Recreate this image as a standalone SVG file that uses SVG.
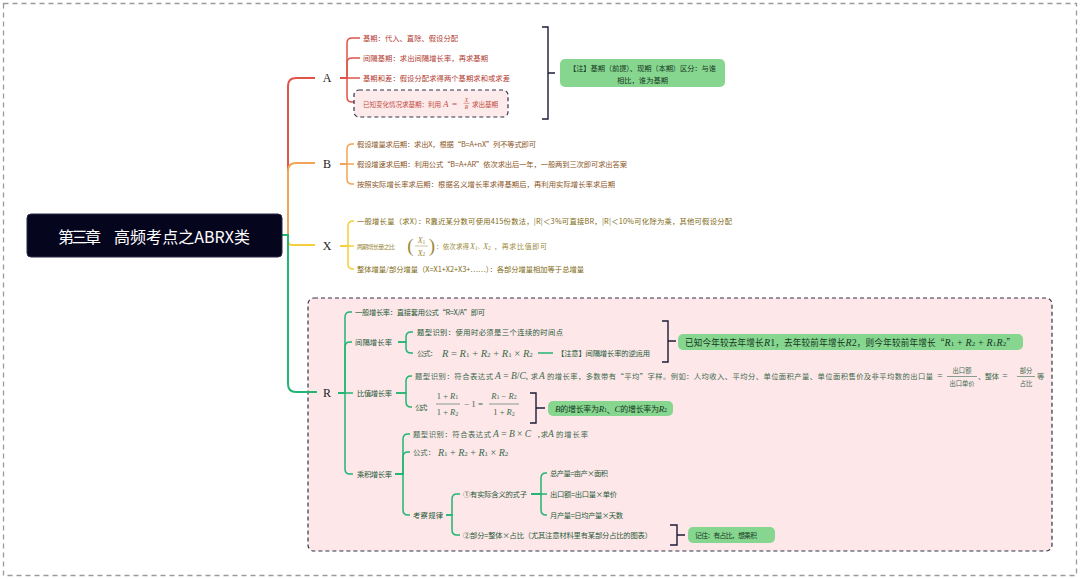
<svg xmlns="http://www.w3.org/2000/svg" width="1080" height="579" viewBox="0 0 1080 579" font-size="7.3">
<defs>
<style>
text,tspan{dominant-baseline:central}
.t{font-family:"Noto Sans CJK SC","Noto Sans",sans-serif}
.m{font-family:"Liberation Serif","DejaVu Serif",serif}
.i{font-style:italic}
.lbl{font-family:"Liberation Serif",serif;font-size:12px;fill:#222}
.ca{fill:#b2392f}
.ca2{fill:#c24b41}
.cb{fill:#8a5526}
.cx{fill:#7e6a12}
.cx2{fill:#9b8a3c}
.cr{fill:#1d5a37}
.cr2{fill:#3c6a4c}
.gt{fill:#16361e}
.lr{fill:none;stroke:#e0544a;stroke-width:1.5}
.lo{fill:none;stroke:#f2a457;stroke-width:1.5}
.ly{fill:none;stroke:#f5cf3a;stroke-width:1.5}
.lg{fill:none;stroke:#22b573;stroke-width:1.5}
.main{stroke-width:2}
.br{fill:none;stroke:#1c1c38;stroke-width:1.4}
.gbox{fill:#86d690}
.dash{stroke:#33334a;stroke-width:1.2;stroke-dasharray:4 3}
</style>
</defs>
<rect x="0" y="0" width="1080" height="579" fill="#fff"/>
<rect x="3.5" y="3.5" width="1073" height="572" fill="#fff" stroke="#9a9a9a" stroke-width="1.3" stroke-dasharray="5 4"/>

<!-- R section background -->
<rect id="r-frame" x="308" y="298" width="744" height="253" rx="6" fill="#fde7e9" class="dash"/>

<g id="connectors">
  <!-- main branches -->
  <path class="lr main" d="M288,240 V86 Q288,78 296,78 H315"/>
  <path class="lo main" d="M288,240 V171 Q288,163 296,163 H315"/>
  <path class="ly main" d="M288,236 V241 Q288,245 292,245 H315"/>
  <path class="lg main" d="M282,235 H288 V384 Q288,392 296,392 H317"/>
  <!-- A children -->
  <path class="lr" d="M340,78 H347 V43 Q347,38 352,38 H360"/>
  <path class="lr" d="M340,78 H347 V63 Q347,58 352,58 H360"/>
  <path class="lr" d="M340,78 H360"/>
  <path class="lr" d="M340,78 H347 V97 Q347,102 352,102 H356"/>
  <!-- B children -->
  <path class="lo" d="M340,164 H347 V149 Q347,144 352,144 H354"/>
  <path class="lo" d="M340,164 H354"/>
  <path class="lo" d="M340,164 H347 V179 Q347,184 352,184 H354"/>
  <!-- X children -->
  <path class="ly" d="M340,246 H348 V226 Q348,221 353,221 H354"/>
  <path class="ly" d="M340,246 H354"/>
  <path class="ly" d="M340,246 H348 V264 Q348,269 353,269 H354"/>
  <!-- R children -->
  <path class="lg" d="M338,393 H345 V317 Q345,312 350,312 H352"/>
  <path class="lg" d="M338,393 H345 V347 Q345,342 350,342 H352"/>
  <path class="lg" d="M338,393 H353"/>
  <path class="lg" d="M338,393 H345 V469 Q345,474 350,474 H353"/>
  <!-- 间隔增长率 -->
  <path class="lg" d="M398,342 H406 V337 Q406,332 411,332 H413"/>
  <path class="lg" d="M398,342 H406 V348 Q406,353 411,353 H413"/>
  <path class="lg" d="M538,353 H553"/>
  <!-- 比值增长率 -->
  <path class="lg" d="M396,393 H406 V381 Q406,376 411,376 H412"/>
  <path class="lg" d="M396,393 H406 V402 Q406,407 411,407 H412"/>
  <!-- 乘积增长率 -->
  <path class="lg" d="M395,474 H403 V439 Q403,434 408,434 H410"/>
  <path class="lg" d="M395,474 H403 V457 Q403,452 408,452 H410"/>
  <path class="lg" d="M395,474 H403 V510 Q403,515 408,515 H410"/>
  <!-- 考察规律 -->
  <path class="lg" d="M446,515 H452 V499 Q452,494 457,494 H460"/>
  <path class="lg" d="M446,515 H452 V530 Q452,535 457,535 H460"/>
  <!-- ①有实际含义的式子 -->
  <path class="lg" d="M531,494 H541 V478 Q541,473 546,473 H547"/>
  <path class="lg" d="M531,494 H547"/>
  <path class="lg" d="M531,494 H541 V510 Q541,515 546,515 H547"/>
  <!-- summary brackets -->
  <path class="br" d="M542,27 H548 V119 H542 M548,73 H555"/>
  <path class="br" d="M662,321 H668 V362 H662 M668,341 H676"/>
  <path class="br" d="M530,393 H536 V423 H530 M536,408 H545"/>
  <path class="br" d="M670,525 H677 V545 H670 M677,535 H685"/>
</g>

<g id="root">
  <rect x="27" y="214" width="255" height="43" rx="4" fill="#05051e" stroke="#2a2a45" stroke-width="1"/>
  <text x="58" y="236" class="t" font-size="16" fill="#ffffff" textLength="43">第三章</text>
  <text x="114" y="236" class="t" font-size="16" fill="#ffffff" textLength="136">高频考点之ABRX类</text>
</g>

<!-- A -->
<g id="A"><text x="327" y="78" class="lbl" text-anchor="middle">A</text></g>
<g id="a1"><text x="363" y="38" class="t ca" textLength="95">基期：代入、直除、假设分配</text></g>
<g id="a2"><text x="363" y="58" class="t ca" textLength="125">间隔基期：求出间隔增长率，再求基期</text></g>
<g id="a3"><text x="363" y="78" class="t ca" textLength="147">基期和差：假设分配求得两个基期求和或求差</text></g>
<g id="a4">
  <rect x="354" y="90" width="154" height="27" rx="5" fill="#fdeaea" class="dash"/>
  <text x="363" y="103.5" class="t ca2" font-size="6.6" textLength="78">已知变化情况求基期：利用</text>
  <text x="443" y="103.5" class="m i ca2" font-size="9">A</text>
  <text x="452" y="103.5" class="m ca2" font-size="9">=</text>
  <text x="466.5" y="99.5" class="m i ca2" font-size="5.5" text-anchor="middle">X</text>
  <line x1="463.5" y1="103.3" x2="469.5" y2="103.3" stroke="#c24b41" stroke-width="0.5"/>
  <text x="466.5" y="107.2" class="m i ca2" font-size="5.5" text-anchor="middle">R</text>
  <text x="472" y="103.5" class="t ca2" font-size="6.6" textLength="26">求出基期</text>
</g>
<g id="a-note">
  <rect x="560" y="59" width="165" height="28" rx="5" class="gbox"/>
  <text x="642.5" y="67.5" class="t gt" text-anchor="middle" textLength="147">【注】基期（前提）、现期（本期）区分：与谁</text>
  <text x="642.5" y="79.5" class="t gt" text-anchor="middle">相比，谁为基期</text>
</g>

<!-- B -->
<g id="B"><text x="327" y="164" class="lbl" text-anchor="middle">B</text></g>
<g id="b1"><text x="357" y="144" class="t cb" textLength="179">假设增量求后期：求出X，根据“B=A+nX”列不等式即可</text></g>
<g id="b2"><text x="357" y="164" class="t cb" textLength="270">假设增速求后期：利用公式“B=A+AR”依次求出后一年，一般两到三次即可求出答案</text></g>
<g id="b3"><text x="357" y="184" class="t cb" textLength="258">按照实际增长率求后期：根据名义增长率求得基期后，再利用实际增长率求后期</text></g>

<!-- X -->
<g id="X"><text x="327" y="246" class="lbl" text-anchor="middle">X</text></g>
<g id="x1"><text x="357" y="221" class="t cx" textLength="375">一般增长量（求X）：R靠近某分数可使用415份数法，|R|＜3%可直接BR，|R|＜10%可化除为乘，其他可假设分配</text></g>
<g id="x2">
  <text x="357" y="246" class="t cx2" font-size="6" textLength="38">两期增长量之比</text>
  <text x="410.5" y="245.5" class="m cx2" font-size="19" text-anchor="middle">(</text>
  <text x="421.5" y="240" class="m cx2" font-size="8" text-anchor="middle"><tspan class="i">X</tspan><tspan font-size="5.5" dy="1.5">1</tspan></text>
  <line x1="415" y1="246" x2="428" y2="246" stroke="#9b8a3c" stroke-width="0.5"/>
  <text x="421.5" y="252.5" class="m cx2" font-size="8" text-anchor="middle"><tspan class="i">X</tspan><tspan font-size="5.5" dy="1.5">2</tspan></text>
  <text x="432" y="245.5" class="m cx2" font-size="19" text-anchor="middle">)</text>
  <text x="436" y="246" class="t cx2" font-size="6.5" textLength="33">：依次求得</text>
  <text x="470" y="246" class="m cx2" font-size="8"><tspan class="i">X</tspan><tspan font-size="5.5" dy="1.6">1</tspan><tspan class="t" font-size="5.5" dy="-1.6">、</tspan><tspan class="i">X</tspan><tspan font-size="5.5" dy="1.6">2</tspan></text>
  <text x="494" y="246" class="t cx2" font-size="7" textLength="53">，再求比值即可</text>
</g>
<g id="x3"><text x="357" y="269" class="t cx" textLength="227">整体增量/部分增量（X=X1+X2+X3+……）：各部分增量相加等于总增量</text></g>

<!-- R -->
<g id="R"><text x="327" y="393" class="lbl" text-anchor="middle">R</text></g>
<g id="r1"><text x="355" y="312" class="t cr" textLength="130">一般增长率：直接套用公式“R=X/A”即可</text></g>
<g id="r2"><text x="355" y="342" class="t cr" textLength="37">间隔增长率</text></g>
<g id="r2a"><text x="417" y="332" class="t cr" textLength="146">题型识别：使用时必须是三个连续的时间点</text></g>
<g id="r2b">
  <text x="417" y="353" class="t cr2" textLength="20">公式：</text>
  <text x="442" y="353" class="m cr2" font-size="10.5"><tspan class="i">R</tspan> = <tspan class="i">R</tspan><tspan font-size="7" dy="2">1</tspan><tspan dy="-2"> + </tspan><tspan class="i">R</tspan><tspan font-size="7" dy="2">2</tspan><tspan dy="-2"> + </tspan><tspan class="i">R</tspan><tspan font-size="7" dy="2">1</tspan><tspan dy="-2"> × </tspan><tspan class="i">R</tspan><tspan font-size="7" dy="2">2</tspan></text>
</g>
<g id="r2c"><text x="557" y="353" class="t cr" textLength="93">【注意】间隔增长率的逆运用</text></g>
<g id="r2-note">
  <rect x="678" y="334" width="345" height="16" rx="5" class="gbox"/>
  <text x="685" y="342" class="t gt" font-size="8.6" textLength="330">已知今年较去年增长<tspan class="m i" font-size="10">R</tspan><tspan class="m" font-size="10">1</tspan>，去年较前年增长<tspan class="m i" font-size="10">R</tspan><tspan class="m" font-size="10">2</tspan>，则今年较前年增长“<tspan class="m i" font-size="10">R</tspan><tspan class="m" font-size="7" dy="2">1</tspan><tspan class="m" font-size="10" dy="-2"> + </tspan><tspan class="m i" font-size="10">R</tspan><tspan class="m" font-size="7" dy="2">2</tspan><tspan class="m" font-size="10" dy="-2"> + </tspan><tspan class="m i" font-size="10">R</tspan><tspan class="m" font-size="7" dy="2">1</tspan><tspan class="m i" font-size="10" dy="-2">R</tspan><tspan class="m" font-size="7" dy="2">2</tspan><tspan dy="-2">”</tspan></text>
</g>

<g id="r3"><text x="357" y="393" class="t cr" textLength="35">比值增长率</text></g>
<g id="r3a">
  <text x="415" y="376" class="t cr2" textLength="78">题型识别：符合表达式</text>
  <text x="495" y="376" class="m cr2" font-size="9.5"><tspan class="i">A</tspan> = <tspan class="i">B</tspan>/<tspan class="i">C</tspan></text>
  <text x="525" y="376" class="t cr2" textLength="13">，求</text>
  <text x="539" y="376" class="m i cr2" font-size="9.5">A</text>
  <text x="547" y="376" class="t cr2" textLength="386">的增长率，多数带有“平均”字样。例如：人均收入、平均分、单位面积产量、单位面积售价及非平均数的出口量</text>
  <text x="940" y="376" class="m cr2" font-size="9.5" text-anchor="middle">=</text>
  <text x="962" y="370.5" class="t cr2" font-size="6.3" text-anchor="middle">出口额</text>
  <line x1="947" y1="376.5" x2="977" y2="376.5" stroke="#3c6a4c" stroke-width="0.6"/>
  <text x="962" y="383" class="t cr2" font-size="6.3" text-anchor="middle">出口单价</text>
  <text x="978" y="376" class="t cr2" textLength="21">、整体</text>
  <text x="1005" y="376" class="m cr2" font-size="9.5" text-anchor="middle">=</text>
  <text x="1026" y="370.5" class="t cr2" font-size="6.3" text-anchor="middle">部分</text>
  <line x1="1017" y1="376.5" x2="1035" y2="376.5" stroke="#3c6a4c" stroke-width="0.6"/>
  <text x="1026" y="383" class="t cr2" font-size="6.3" text-anchor="middle">占比</text>
  <text x="1037" y="376" class="t cr2">等</text>
</g>
<g id="r3b">
  <text x="415" y="407" class="t cr2" textLength="17">公式：</text>
  <text x="447.5" y="395.5" class="m cr2" font-size="8.5" text-anchor="middle">1 + <tspan class="i">R</tspan><tspan font-size="6" dy="1.5">1</tspan></text>
  <line x1="436" y1="404" x2="460" y2="404" stroke="#3c6a4c" stroke-width="0.6"/>
  <text x="447.5" y="412" class="m cr2" font-size="8.5" text-anchor="middle">1 + <tspan class="i">R</tspan><tspan font-size="6" dy="1.5">2</tspan></text>
  <text x="464" y="404" class="m cr2" font-size="9">− 1 =</text>
  <text x="504" y="395.5" class="m cr2" font-size="8.5" text-anchor="middle"><tspan class="i">R</tspan><tspan font-size="6" dy="1.5">1</tspan><tspan dy="-1.5"> − </tspan><tspan class="i">R</tspan><tspan font-size="6" dy="1.5">2</tspan></text>
  <line x1="489" y1="404" x2="519" y2="404" stroke="#3c6a4c" stroke-width="0.6"/>
  <text x="504" y="412" class="m cr2" font-size="8.5" text-anchor="middle">1 + <tspan class="i">R</tspan><tspan font-size="6" dy="1.5">2</tspan></text>
</g>
<g id="r3-note">
  <rect x="548" y="401" width="125" height="15" rx="5" class="gbox"/>
  <text x="555" y="408.5" class="t gt" font-size="8" textLength="112"><tspan class="m i" font-size="9">B</tspan>的增长率为<tspan class="m i" font-size="9">R</tspan><tspan class="m" font-size="6" dy="1.5">1</tspan><tspan dy="-1.5">、</tspan><tspan class="m i" font-size="9">C</tspan>的增长率为<tspan class="m i" font-size="9">R</tspan><tspan class="m" font-size="6" dy="1.5">2</tspan></text>
</g>

<g id="r4"><text x="357" y="474" class="t cr" textLength="35">乘积增长率</text></g>
<g id="r4a">
  <text x="413" y="434" class="t cr2" textLength="78">题型识别：符合表达式</text>
  <text x="493" y="434" class="m cr2" font-size="9.5"><tspan class="i">A</tspan> = <tspan class="i">B</tspan> × <tspan class="i">C</tspan></text>
  <text x="537" y="434" class="t cr2" textLength="11">，求</text>
  <text x="548" y="434" class="m i cr2" font-size="9.5">A</text>
  <text x="556" y="434" class="t cr2" textLength="32">的增长率</text>
</g>
<g id="r4b">
  <text x="413" y="452" class="t cr2" textLength="22">公式：</text>
  <text x="438" y="452" class="m cr2" font-size="10"><tspan class="i">R</tspan><tspan font-size="7" dy="2">1</tspan><tspan dy="-2"> + </tspan><tspan class="i">R</tspan><tspan font-size="7" dy="2">2</tspan><tspan dy="-2"> + </tspan><tspan class="i">R</tspan><tspan font-size="7" dy="2">1</tspan><tspan dy="-2"> × </tspan><tspan class="i">R</tspan><tspan font-size="7" dy="2">2</tspan></text>
</g>
<g id="r4c"><text x="413" y="515" class="t cr" textLength="30">考察规律</text></g>
<g id="r4c1"><text x="463" y="494" class="t cr" textLength="64">①有实际含义的式子</text></g>
<g id="r4c1a"><text x="550" y="473" class="t cr" textLength="58">总产量=亩产×面积</text></g>
<g id="r4c1b"><text x="550" y="494" class="t cr" textLength="67">出口额=出口量×单价</text></g>
<g id="r4c1c"><text x="550" y="515" class="t cr" textLength="73">月产量=日均产量×天数</text></g>
<g id="r4c2"><text x="463" y="535" class="t cr" textLength="189">②部分=整体×占比（尤其注意材料里有某部分占比的图表）</text></g>
<g id="r4-note">
  <rect x="688" y="527" width="87" height="16" rx="5" class="gbox"/>
  <text x="695" y="535" class="t gt" font-size="6.8" textLength="62">记住：有占比，想乘积</text>
</g>
</svg>
